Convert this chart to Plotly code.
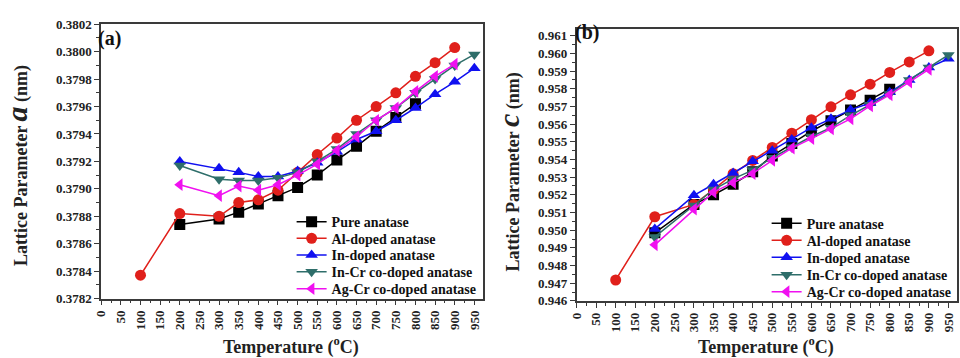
import plotly.graph_objects as go

# ---------------- data ----------------
T_pure = [200, 300, 350, 400, 450, 500, 550, 600, 650, 700, 750, 800]
T_al = [100, 200, 300, 350, 400, 450, 500, 550, 600, 650, 700, 750, 800, 850, 900]
T_in = [200, 300, 350, 400, 450, 500, 550, 600, 650, 700, 750, 800, 850, 900, 950]
T_incr = [200, 300, 350, 400, 450, 500, 550, 600, 650, 700, 750, 800, 850, 900, 950]
T_agcr = [200, 300, 350, 400, 450, 500, 550, 600, 650, 700, 750, 800, 850, 900]

# panel (a): lattice parameter a (nm)
pure_a = [0.37874, 0.37878, 0.37883, 0.37889, 0.37895, 0.37901, 0.37910, 0.37921,
          0.37931, 0.37942, 0.37952, 0.37962]
al_a = [0.37837, 0.37882, 0.37880, 0.37890, 0.37892, 0.37899, 0.37912, 0.37925,
        0.37937, 0.37950, 0.37960, 0.37970, 0.37982, 0.37992, 0.38003]
in_a = [0.37920, 0.37915, 0.37912, 0.37909, 0.37909, 0.37913, 0.37919, 0.37927,
        0.37936, 0.37942, 0.37950, 0.37959, 0.37969, 0.37978, 0.37988]
incr_a = [0.37917, 0.37907, 0.37906, 0.37906, 0.37908, 0.37912, 0.37920, 0.37929,
          0.37940, 0.37950, 0.37959, 0.37970, 0.37980, 0.37990, 0.37998]
agcr_a = [0.37903, 0.37895, 0.37902, 0.37899, 0.37903, 0.37910, 0.37918, 0.37928,
          0.37938, 0.37950, 0.37959, 0.37971, 0.37982, 0.37991]

# panel (b): lattice parameter c (nm)
pure_c = [0.94985, 0.95146, 0.95200, 0.95260, 0.95330, 0.95420, 0.95490, 0.95560,
          0.95620, 0.95680, 0.95736, 0.95798]
al_c = [0.94718, 0.95076, 0.95146, 0.95230, 0.95320, 0.95395, 0.95468, 0.95549,
        0.95625, 0.95698, 0.95766, 0.95826, 0.95893, 0.95952, 0.96015]
in_c = [0.95007, 0.95197, 0.95260, 0.95323, 0.95390, 0.95450, 0.95513, 0.95580,
        0.95630, 0.95681, 0.95720, 0.95780, 0.95850, 0.95920, 0.95970]
incr_c = [0.94962, 0.95140, 0.95230, 0.95290, 0.95340, 0.95410, 0.95470, 0.95530,
          0.95580, 0.95650, 0.95710, 0.95770, 0.95850, 0.95920, 0.95992]
agcr_c = [0.94917, 0.95119, 0.95215, 0.95269, 0.95320, 0.95395, 0.95464, 0.95518,
          0.95573, 0.95630, 0.95703, 0.95766, 0.95838, 0.95910]

names = ["Pure anatase", "Al-doped anatase", "In-doped anatase",
         "In-Cr co-doped anatase", "Ag-Cr co-doped anatase"]
colors = ["#000000", "#e0201b", "#1010f0", "#2e6e6a", "#f010f0"]
symbols = ["square", "circle", "triangle-up", "triangle-down", "triangle-left"]

x_ticks = list(range(0, 951, 50))

FONT = "Liberation Serif, Times New Roman, serif"

fig = go.Figure()

sets_a = [(T_pure, pure_a), (T_al, al_a), (T_in, in_a), (T_incr, incr_a), (T_agcr, agcr_a)]
sets_c = [(T_pure, pure_c), (T_al, al_c), (T_in, in_c), (T_incr, incr_c), (T_agcr, agcr_c)]

# one single-entry legend per item, so the rows can be spaced like the original
leg_a_y = [224.5, 241.8, 259.2, 276.8, 294.5]
leg_b_y = [226.2, 243.9, 261.6, 279.8, 297.5]
leg_a_x = 286
leg_b_x = 765

legend_font = dict(family=FONT, size=14, color="#111", weight="bold")
legend_layout = {}

for i, (tx, ty) in enumerate(sets_a):
    lname = "legend" if i == 0 else f"legend{i + 1}"
    fig.add_trace(go.Scatter(
        x=tx, y=ty, mode="lines+markers", name=names[i],
        line=dict(color=colors[i], width=1.5),
        marker=dict(symbol=symbols[i], size=11, color=colors[i]),
        xaxis="x", yaxis="y", legend=lname))
    legend_layout[lname] = dict(x=leg_a_x / 960, y=1 - leg_a_y[i] / 358,
                                xanchor="left", yanchor="middle",
                                bgcolor="rgba(0,0,0,0)", font=legend_font,
                                itemwidth=30, borderwidth=0)

for i, (tx, ty) in enumerate(sets_c):
    lname = f"legend{i + 6}"
    fig.add_trace(go.Scatter(
        x=tx, y=ty, mode="lines+markers", name=names[i],
        line=dict(color=colors[i], width=1.5),
        marker=dict(symbol=symbols[i], size=11, color=colors[i]),
        xaxis="x2", yaxis="y2", legend=lname))
    legend_layout[lname] = dict(x=leg_b_x / 960, y=1 - leg_b_y[i] / 358,
                                xanchor="left", yanchor="middle",
                                bgcolor="rgba(0,0,0,0)", font=legend_font,
                                itemwidth=30, borderwidth=0)

axis_common = dict(
    showline=True, linecolor="#3a3a3a", linewidth=1.5, mirror=True,
    ticks="outside", ticklen=5, tickwidth=1.2, tickcolor="#3a3a3a",
    showgrid=False, zeroline=False,
    tickfont=dict(family=FONT, size=13, color="#222", weight="bold"),
)

xcommon = dict(axis_common, range=[0, 972], tickvals=x_ticks, tickangle=-90,
               minor=dict(ticks="outside", ticklen=3, dtick=25, tick0=0,
                          tickcolor="#3a3a3a", tickwidth=1))

fig.update_layout(
    width=960, height=358,
    margin=dict(l=0, r=0, t=0, b=0),
    paper_bgcolor="white", plot_bgcolor="white",
    xaxis=dict(xcommon, domain=[94 / 960, 479 / 960], anchor="y"),
    yaxis=dict(axis_common, domain=[1 - 304.3 / 358, 1 - 18 / 358], anchor="x",
               range=[0.3782, 0.3802], tickvals=[0.3782 + 0.0002 * k for k in range(11)],
               tickformat=".4f",
               minor=dict(ticks="outside", ticklen=3, dtick=0.0001, tick0=0.3782,
                          tickcolor="#3a3a3a", tickwidth=1)),
    xaxis2=dict(xcommon, domain=[573.3 / 960, 957 / 960], anchor="y2"),
    yaxis2=dict(axis_common, domain=[1 - 306.7 / 358, 1 - 22.7 / 358], anchor="x2",
                range=[0.946, 0.9614], tickvals=[0.946 + 0.001 * k for k in range(16)],
                tickformat=".3f",
                minor=dict(ticks="outside", ticklen=3, dtick=0.0005, tick0=0.946,
                           tickcolor="#3a3a3a", tickwidth=1)),
    showlegend=True,
    **legend_layout,
)

title_font = dict(family=FONT, size=18, color="#222", weight="bold")

annotations = [
    dict(text="(a)", x=89 / 960, y=1 - 33 / 358, xref="paper", yref="paper",
         xanchor="left", yanchor="middle", showarrow=False,
         font=dict(family=FONT, size=20, color="#111", weight="bold")),
    dict(text="(b)", x=570 / 960, y=1 - 27 / 358, xref="paper", yref="paper",
         xanchor="left", yanchor="middle", showarrow=False,
         font=dict(family=FONT, size=20, color="#111", weight="bold")),
    dict(text="Temperature (<sup>o</sup>C)", x=285 / 960, y=1 - 354 / 358,
         xref="paper", yref="paper", xanchor="center", yanchor="middle",
         showarrow=False, font=title_font),
    dict(text="Temperature (<sup>o</sup>C)", x=764 / 960, y=1 - 354 / 358,
         xref="paper", yref="paper", xanchor="center", yanchor="middle",
         showarrow=False, font=title_font),
    dict(text="Lattice Parameter <span style='font-size:30px'><i>a</i></span> (nm)",
         x=8 / 960, y=1 - 165 / 358, xref="paper", yref="paper",
         xanchor="center", yanchor="middle", textangle=-90,
         showarrow=False, font=title_font),
    dict(text="Lattice Parameter <span style='font-size:30px'><i>c</i></span> (nm)",
         x=505 / 960, y=1 - 172 / 358, xref="paper", yref="paper",
         xanchor="center", yanchor="middle", textangle=-90,
         showarrow=False, font=title_font),
]
fig.update_layout(annotations=annotations)

fig.write_html("out.html")
